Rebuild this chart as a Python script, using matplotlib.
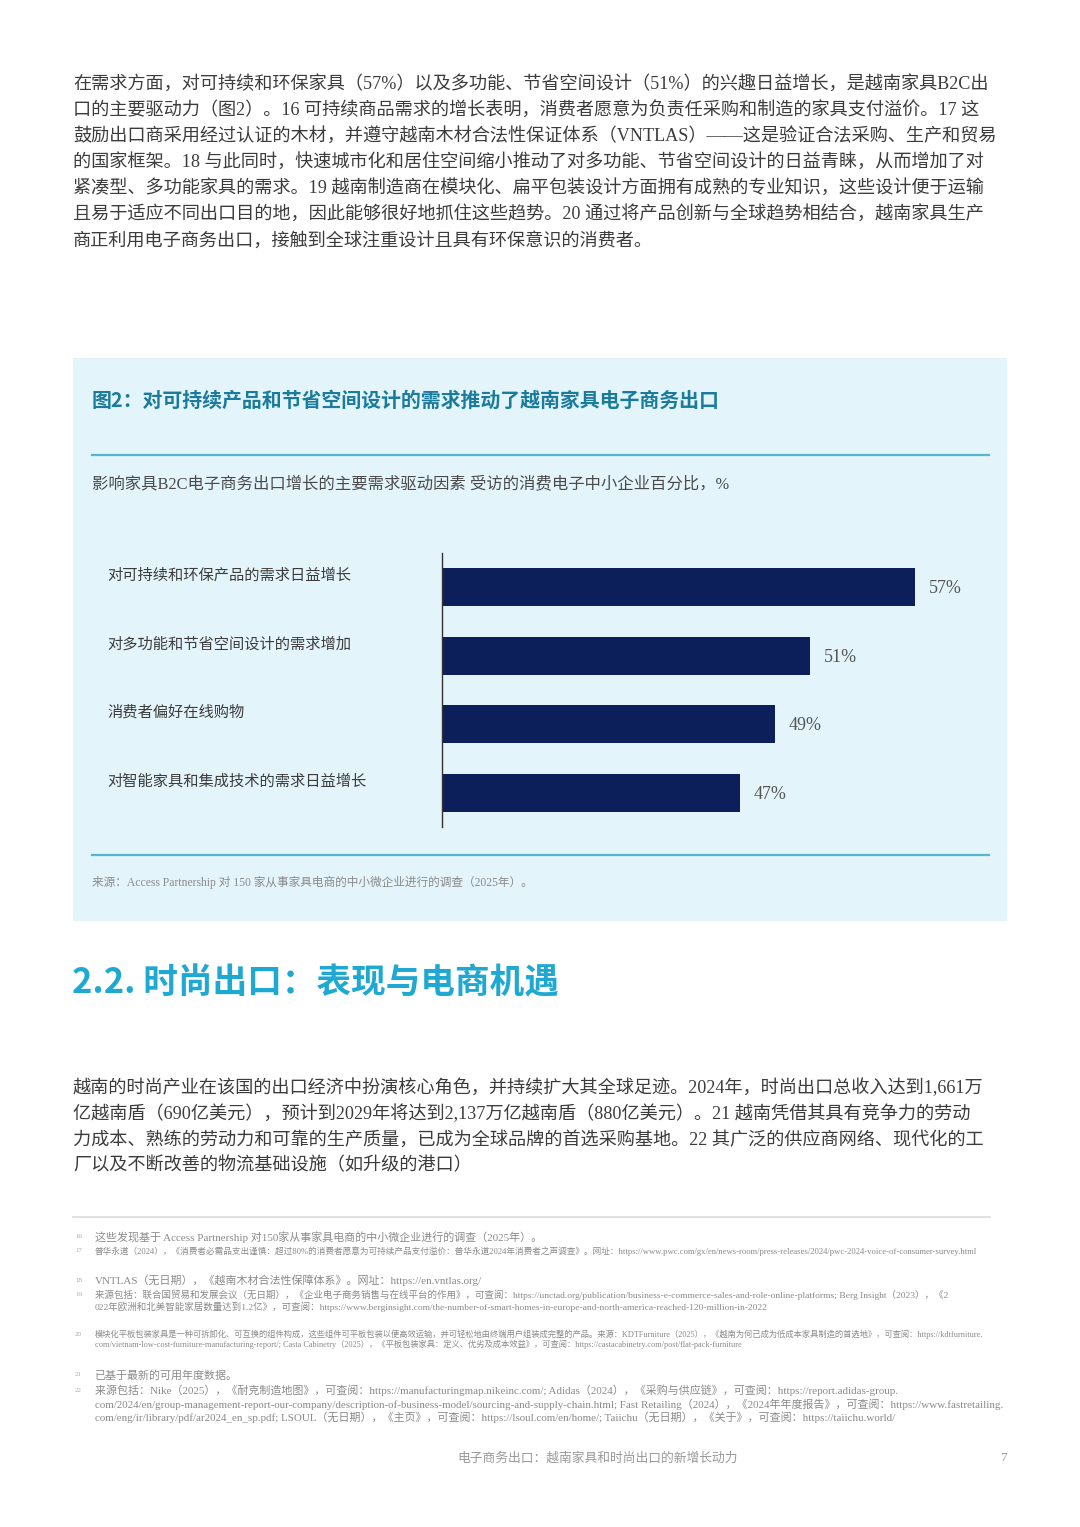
import matplotlib
matplotlib.use('Agg')
import matplotlib.pyplot as plt
from matplotlib.patches import Rectangle
from matplotlib.lines import Line2D
from matplotlib.transforms import blended_transform_factory

# ── Data grafik ─────────────────────────────────────────
categories = [
    '对可持续和环保产品的需求日益增长',
    '对多功能和节省空间设计的需求增加',
    '消费者偏好在线购物',
    '对智能家具和集成技术的需求日益增长',
]
values = [57, 51, 49, 47]
x_min, x_max = 30, 60

# ── Teks halaman ───────────────────────────────────────
para1 = [
    '在需求方面，对可持续和环保家具（57%）以及多功能、节省空间设计（51%）的兴趣日益增长，是越南家具B2C出',
    '口的主要驱动力（图2）。16 可持续商品需求的增长表明，消费者愿意为负责任采购和制造的家具支付溢价。17 这',
    '鼓励出口商采用经过认证的木材，并遵守越南木材合法性保证体系（VNTLAS）——这是验证合法采购、生产和贸易',
    '的国家框架。18 与此同时，快速城市化和居住空间缩小推动了对多功能、节省空间设计的日益青睐，从而增加了对',
    '紧凑型、多功能家具的需求。19 越南制造商在模块化、扁平包装设计方面拥有成熟的专业知识，这些设计便于运输',
    '且易于适应不同出口目的地，因此能够很好地抓住这些趋势。20 通过将产品创新与全球趋势相结合，越南家具生产',
    '商正利用电子商务出口，接触到全球注重设计且具有环保意识的消费者。',
]
para2 = [
    '越南的时尚产业在该国的出口经济中扮演核心角色，并持续扩大其全球足迹。2024年，时尚出口总收入达到1,661万',
    '亿越南盾（690亿美元），预计到2029年将达到2,137万亿越南盾（880亿美元）。21 越南凭借其具有竞争力的劳动',
    '力成本、熟练的劳动力和可靠的生产质量，已成为全球品牌的首选采购基地。22 其广泛的供应商网络、现代化的工',
    '厂以及不断改善的物流基础设施（如升级的港口）',
]
chart_title = '图2：对可持续产品和节省空间设计的需求推动了越南家具电子商务出口'
chart_sub = '影响家具B2C电子商务出口增长的主要需求驱动因素 受访的消费电子中小企业百分比，%'
chart_src = '来源：Access Partnership 对 150 家从事家具电商的中小微企业进行的调查（2025年）。'
heading = '2.2. 时尚出口：表现与电商机遇'
footer = '电子商务出口：越南家具和时尚出口的新增长动力'
page_no = '7'

# (nomor, baris-baris, y px, ukuran)
footnotes = [
    ('16', ['这些发现基于 Access Partnership 对150家从事家具电商的中小微企业进行的调查（2025年）。'], 1237, 7.9),
    ('17', ['普华永道（2024），《消费者必需品支出谨慎：超过80%的消费者愿意为可持续产品支付溢价：普华永道2024年消费者之声调查》。网址：'
            'https://www.pwc.com/gx/en/news-room/press-releases/2024/pwc-2024-voice-of-consumer-survey.html'], 1251, 6.2),
    ('18', ['VNTLAS（无日期），《越南木材合法性保障体系》。网址：https://en.vntlas.org/'], 1280, 7.9),
    ('19', ['来源包括：联合国贸易和发展会议（无日期），《企业电子商务销售与在线平台的作用》，可查阅：https://unctad.org/publication/business-e-commerce-sales-and-role-online-platforms; Berg Insight（2023），《2',
            '022年欧洲和北美智能家居数量达到1.2亿》，可查阅：https://www.berginsight.com/the-number-of-smart-homes-in-europe-and-north-america-reached-120-million-in-2022'], 1295, 6.8),
    ('20', ['模块化平板包装家具是一种可拆卸化、可互换的组件构成，这些组件可平板包装以便高效运输，并可轻松地由终端用户组装成完整的产品。来源：KDTFurniture（2025），《越南为何已成为低成本家具制造的首选地》，可查阅：https://kdtfurniture.',
            'com/vietnam-low-cost-furniture-manufacturing-report/; Casta Cabinetry（2025），《平板包装家具：定义、优劣及成本效益》，可查阅：https://castacabinetry.com/post/flat-pack-furniture'], 1334, 5.95),
    ('21', ['已基于最新的可用年度数据。'], 1375, 7.9),
    ('22', ['来源包括：Nike（2025），《耐克制造地图》，可查阅：https://manufacturingmap.nikeinc.com/; Adidas（2024），《采购与供应链》，可查阅：https://report.adidas-group.',
            'com/2024/en/group-management-report-our-company/description-of-business-model/sourcing-and-supply-chain.html; Fast Retailing（2024），《2024年年度报告》，可查阅：https://www.fastretailing.',
            'com/eng/ir/library/pdf/ar2024_en_sp.pdf; LSOUL（无日期），《主页》，可查阅：https://lsoul.com/en/home/; Taiichu（无日期），《关于》，可查阅：https://taiichu.world/'], 1390, 7.9),
]

# ── Gaya ───────────────────────────────────────────────
W, H = 1080, 1527
BODY = ['Liberation Serif', 'Noto Sans CJK SC', 'DejaVu Sans']
SANS = ['Noto Sans CJK SC', 'DejaVu Sans']
plt.rcParams['font.family'] = BODY

panel_bg = '#e3f4fb'
teal_dark = '#1b7b9c'
teal_line = '#55b8c8'
heading_c = '#1ea8d2'
bar_c = '#0c1f5a'
body_c = '#3c3c3c'
grey_c = '#8a8a8a'


def fx(x):
    return x / W


def fy(y):
    return 1 - y / H


fig = plt.figure(figsize=(W / 100, H / 100), dpi=100)
fig.patch.set_facecolor('white')

# Panel latar biru (di belakang axes)
fig.patches.append(Rectangle((fx(73), fy(921)), (1007 - 73) / W, (921 - 358) / H,
                             transform=fig.transFigure, facecolor=panel_bg,
                             edgecolor='none', zorder=-5))

# Paragraf atas
for i, line in enumerate(para1):
    fig.text(fx(73), fy(85 + i * 26), line, fontsize=13.1, color=body_c, va='center')

# Judul grafik
fig.text(fx(92), fy(400), chart_title, fontsize=14.35, fontweight='bold',
         color=teal_dark, va='center', family=SANS)
for yy in (455, 855):
    fig.add_artist(Line2D([fx(92), fx(989)], [fy(yy), fy(yy)], color=teal_line,
                          lw=1.6, transform=fig.transFigure))
fig.text(fx(92), fy(485), chart_sub, fontsize=11.75, color='#4a4a4a', va='center')
fig.text(fx(92), fy(882), chart_src, fontsize=8.4, color=grey_c, va='center')

# ── Bar chart ──────────────────────────────────────────
px_per_unit = 17.5
ax_left, ax_top, ax_bot = 442, 552.7, 827.3
ax_right = ax_left + (x_max - x_min) * px_per_unit
ax = fig.add_axes([fx(ax_left), fy(ax_bot), (ax_right - ax_left) / W, (ax_bot - ax_top) / H],
                  zorder=2)
ax.set_facecolor('none')
pos = list(range(len(categories)))
ax.barh(pos, values, left=0, height=0.553, color=bar_c)
ax.set_xlim(x_min, x_max)
ax.set_ylim(len(categories) - 0.5, -0.5)
for s in ('top', 'right', 'bottom'):
    ax.spines[s].set_visible(False)
ax.spines['left'].set_color('#333333')
ax.spines['left'].set_linewidth(1.0)
ax.set_xticks([])
ax.set_yticks([])

lab_tr = blended_transform_factory(fig.transFigure, ax.transData)
for p, cat, v in zip(pos, categories, values):
    ax.text(fx(107), p - 0.17, cat, transform=lab_tr, fontsize=11, color='#3c3c3c',
            va='center', ha='left', clip_on=False)
    ax.text(v + 0.8, p + 0.02, f'{v}%', fontsize=13, color='#555555',
            va='center', ha='left', clip_on=False)

# Judul bagian 2.2
fig.text(fx(72), fy(983), heading, fontsize=24.9, fontweight='bold', color=heading_c,
         va='center', family=SANS)

for i, line in enumerate(para2):
    fig.text(fx(73), fy(1088 + i * 26), line, fontsize=13.1, color=body_c, va='center')

# Catatan kaki
fig.add_artist(Line2D([fx(73), fx(990)], [fy(1217), fy(1217)], color='#dddddd',
                      lw=1.2, transform=fig.transFigure))
for num, lines, y0, size in footnotes:
    fig.text(fx(75), fy(y0), num, fontsize=5, color='#aaaaaa', va='center')
    step = size * 1.75
    for j, line in enumerate(lines):
        fig.text(fx(95), fy(y0 + j * step), line, fontsize=size, color=grey_c, va='center')

# Footer
fig.text(fx(598), fy(1458), footer, fontsize=9.2, color='#999999', va='center', ha='center')
fig.text(fx(1003), fy(1458), page_no, fontsize=9.5, color='#999999', va='center', ha='center')

plt.savefig('out.png', dpi=100, facecolor='white')
